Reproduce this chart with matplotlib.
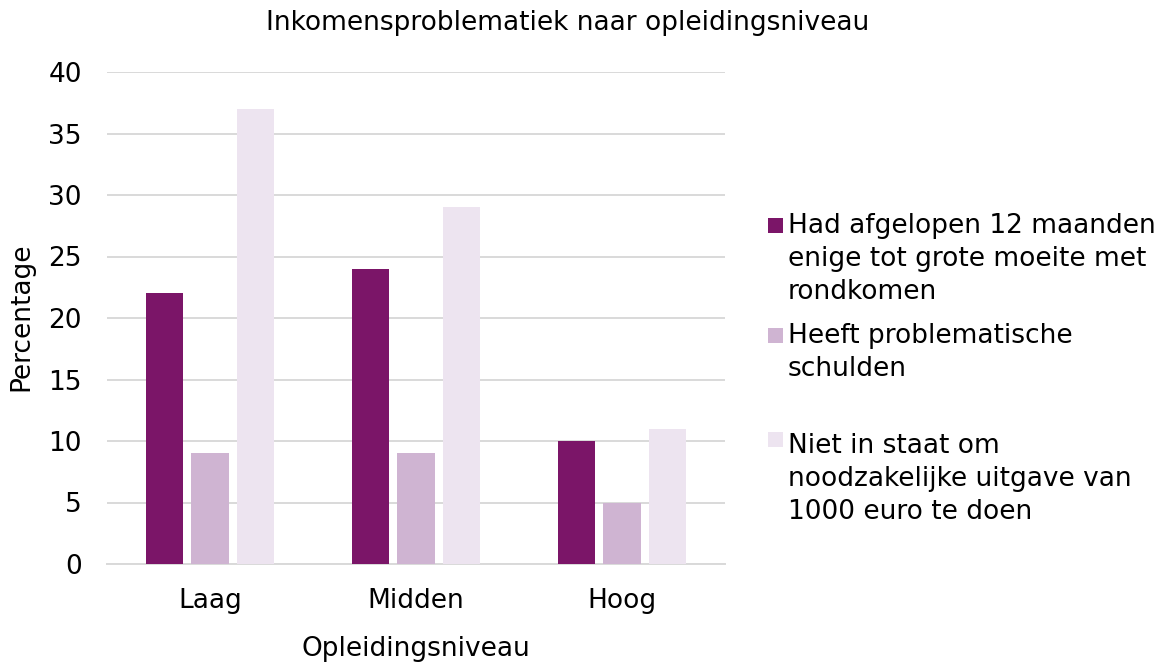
import matplotlib
matplotlib.use("Agg")
import matplotlib.pyplot as plt
import numpy as np
from matplotlib.patches import Rectangle

plt.rcParams['font.family'] = ['DejaVu Sans']

categories = ["Laag", "Midden", "Hoog"]
series_labels = [
    "Had afgelopen 12 maanden\nenige tot grote moeite met\nrondkomen",
    "Heeft problematische\nschulden",
    "Niet in staat om\nnoodzakelijke uitgave van\n1000 euro te doen",
]
moeite = [22, 24, 10]
schulden = [9, 9, 5]
niet_in_staat = [37, 29, 11]
series_values = [moeite, schulden, niet_in_staat]
colors = ["#7B1568", "#CFB4D2", "#EDE4F0"]
y_ticks = [0, 5, 10, 15, 20, 25, 30, 35, 40]

FS = 19
W, H = 1165, 666
fig = plt.figure(figsize=(W / 100, H / 100), dpi=100)
ax = fig.add_axes([107 / W, 1 - 564 / H, (725 - 107) / W, (564 - 72) / H])

x = np.arange(len(categories))
bw = 0.18
step = 0.22
for i, (vals, c) in enumerate(zip(series_values, colors)):
    ax.bar(x + (i - 1) * step, vals, width=bw, color=c, zorder=3)

ax.set_xlim(-0.5, 2.5)
ax.set_ylim(0, 40)
ax.set_yticks(y_ticks)
ax.set_xticks(x)
ax.set_xticklabels(categories)
ax.grid(axis='y', color='#D9D9D9', linewidth=1.4, zorder=0)
for s in ['top', 'right', 'left']:
    ax.spines[s].set_visible(False)
ax.spines['bottom'].set_color('#D9D9D9')
ax.spines['bottom'].set_linewidth(1.4)
ax.tick_params(axis='both', length=0, labelsize=FS, colors='#000000')
ax.tick_params(axis='y', pad=18)
ax.tick_params(axis='x', pad=17)

fig.text(568 / W, 1 - 23 / H, "Inkomensproblematiek naar opleidingsniveau",
         ha='center', va='center', fontsize=FS)
fig.text(416 / W, 1 - 649 / H, "Opleidingsniveau", ha='center', va='center', fontsize=FS)
fig.text(21 / W, 1 - 317 / H, "Percentage", ha='center', va='center',
         rotation=90, fontsize=FS)

# legend (manual, first line aligned with marker)
baselines = [233, 343, 453]
marker_tops = [218, 328, 432]
pitch = 33
for lab, c, b, mt in zip(series_labels, colors, baselines, marker_tops):
    fig.patches.append(Rectangle((768 / W, 1 - (mt + 15) / H), 15 / W, 15 / H,
                                 transform=fig.transFigure, facecolor=c,
                                 edgecolor='none'))
    for k, line in enumerate(lab.split("\n")):
        fig.text(788 / W, 1 - (b + k * pitch) / H, line, ha='left',
                 va='baseline', fontsize=FS)

fig.savefig("out.png", dpi=100)
